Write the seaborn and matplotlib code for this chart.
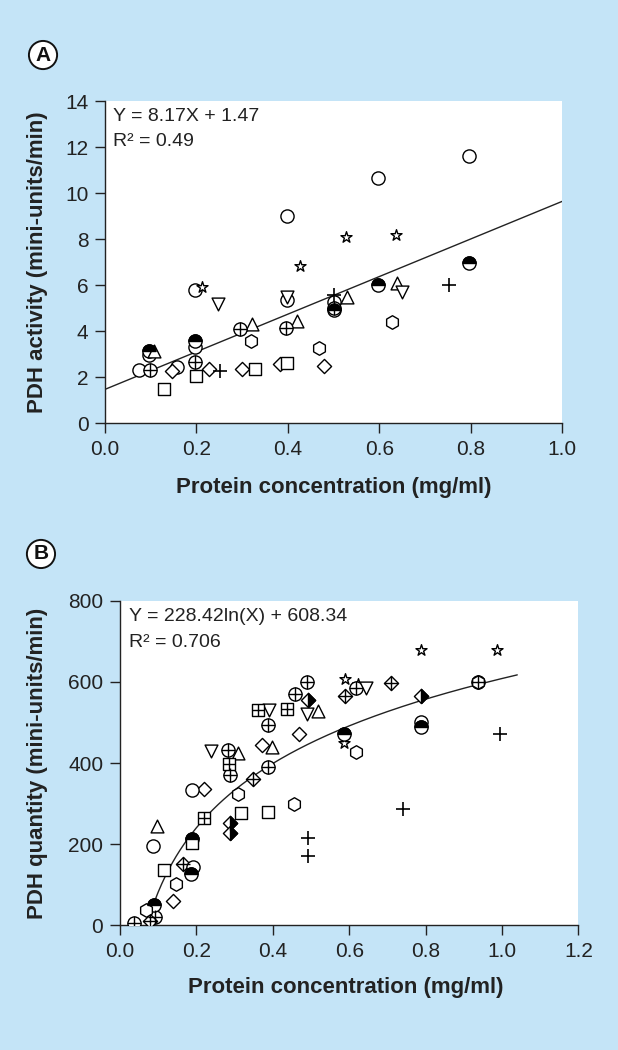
import numpy as np
import matplotlib
matplotlib.use("Agg")
import matplotlib.pyplot as plt
from matplotlib.markers import MarkerStyle
import seaborn as sns

# ---------------- data: panel A (PDH activity) ----------------
a_circle_x = [0.797, 0.598, 0.399, 0.197, 0.197, 0.097, 0.075, 0.158, 0.398, 0.500]
a_circle_y = [11.60, 10.65, 9.00, 5.80, 3.30, 2.98, 2.30, 2.43, 5.35, 5.25]
a_half_x = [0.797, 0.598, 0.197, 0.500, 0.097]
a_half_y = [6.95, 6.00, 3.58, 4.90, 3.15]
a_star_x = [0.527, 0.637, 0.427, 0.212]
a_star_y = [8.10, 8.20, 6.85, 5.90]
a_tri_up_x = [0.638, 0.529, 0.321, 0.421, 0.107]
a_tri_up_y = [6.10, 5.50, 4.30, 4.45, 3.12]
a_tri_dn_x = [0.248, 0.649, 0.398]
a_tri_dn_y = [5.20, 5.70, 5.50]
a_plus_x = [0.752, 0.502, 0.252]
a_plus_y = [6.00, 5.55, 2.28]
a_oplus_x = [0.295, 0.396, 0.197, 0.098, 0.500]
a_oplus_y = [4.10, 4.15, 2.65, 2.30, 5.00]
a_hex_x = [0.319, 0.627, 0.468]
a_hex_y = [3.55, 4.40, 3.25]
a_diam_x = [0.146, 0.228, 0.299, 0.383, 0.478]
a_diam_y = [2.25, 2.35, 2.35, 2.55, 2.50]
a_sq_x = [0.198, 0.129, 0.328, 0.398]
a_sq_y = [2.05, 1.50, 2.35, 2.60]
a_slope, a_intercept = 8.17, 1.47

# ---------------- data: panel B (PDH quantity) ----------------
b_star_x = [0.787, 0.988, 0.589, 0.624, 0.587, 0.188]
b_star_y = [679, 678, 608, 596, 450, 334]
b_oplus_x = [0.489, 0.458, 0.387, 0.282, 0.288, 0.388, 0.618, 0.938, 0.092, 0.037]
b_oplus_y = [599, 569, 495, 432, 370, 391, 584, 600, 22, 5]
b_halfdiam_x = [0.493, 0.788, 0.288, 0.288]
b_halfdiam_y = [555, 565, 253, 227]
b_tri_dn_x = [0.489, 0.391, 0.643, 0.237]
b_tri_dn_y = [521, 532, 585, 430]
b_tri_up_x = [0.519, 0.397, 0.310, 0.096]
b_tri_up_y = [529, 440, 425, 245]
b_sqplus_x = [0.362, 0.438, 0.285, 0.220]
b_sqplus_y = [530, 533, 398, 264]
b_diam_x = [0.469, 0.373, 0.220, 0.140]
b_diam_y = [471, 444, 336, 61]
b_diamplus_x = [0.589, 0.709, 0.347, 0.164, 0.079]
b_diamplus_y = [566, 598, 362, 151, 12]
b_circle_x = [0.787, 0.087, 0.190, 0.188]
b_circle_y = [502, 196, 145, 334]
b_half_x = [0.787, 0.587, 0.188, 0.185, 0.089]
b_half_y = [488, 471, 213, 128, 50]
b_hex_x = [0.618, 0.308, 0.456, 0.147, 0.068, 0.938]
b_hex_y = [428, 324, 298, 101, 38, 600]
b_sq_x = [0.317, 0.388, 0.189, 0.115]
b_sq_y = [278, 280, 202, 137]
b_plus_x = [0.995, 0.740, 0.491, 0.491]
b_plus_y = [471, 288, 216, 171]
b_log_coef, b_log_int = 228.42, 608.34
b_fit_range = (0.09, 1.04)

# ---------------- style ----------------
BG = "#c4e4f7"
sns.set_theme(style="ticks")
plt.rcParams["font.family"] = ["Liberation Sans", "DejaVu Sans"]

fig = plt.figure(figsize=(6.18, 10.5), dpi=100, facecolor=BG)
axA = fig.add_axes([0.170, 0.597, 0.7395, 0.3067])
axB = fig.add_axes([0.1942, 0.1186, 0.7417, 0.3093])

LW = 1.0


def open_pts(ax, x, y, marker, s):
    sns.scatterplot(x=x, y=y, marker=marker, s=s, facecolor="white",
                    edgecolor="black", linewidth=LW, ax=ax, zorder=3)


def plus_pts(ax, x, y, s, lw=1.2):
    sns.scatterplot(x=x, y=y, marker="+", s=s, color="black",
                    linewidth=lw, ax=ax, zorder=4)


def half_pts(ax, x, y, base, fill, s):
    open_pts(ax, x, y, base, s)
    sns.scatterplot(x=x, y=y, marker=MarkerStyle(base, fillstyle=fill), s=s,
                    facecolor="black", edgecolor="black", linewidth=LW,
                    ax=ax, zorder=4)


S_C = 90    # circle
S_T = 85    # triangles
S_S = 80    # square
S_D = 52    # diamond
S_H = 95    # hexagon
S_ST = 70   # star

# ---------- panel A ----------
open_pts(axA, a_circle_x, a_circle_y, "o", S_C)
half_pts(axA, a_half_x, a_half_y, "o", "top", S_C)
open_pts(axA, a_star_x, a_star_y, "*", S_ST)
open_pts(axA, a_tri_up_x, a_tri_up_y, "^", S_T)
open_pts(axA, a_tri_dn_x, a_tri_dn_y, "v", S_T)
plus_pts(axA, a_plus_x, a_plus_y, 95)
open_pts(axA, a_oplus_x, a_oplus_y, "o", S_C)
plus_pts(axA, a_oplus_x, a_oplus_y, S_C, lw=LW)
open_pts(axA, a_hex_x, a_hex_y, "h", S_H)
open_pts(axA, a_diam_x, a_diam_y, "D", S_D)
open_pts(axA, a_sq_x, a_sq_y, "s", S_S)

xa = np.array([0.0, 1.0])
sns.lineplot(x=xa, y=a_slope * xa + a_intercept, color="#222222",
             linewidth=1.0, ax=axA, zorder=2)

# ---------- panel B ----------
open_pts(axB, b_star_x, b_star_y, "*", S_ST)
open_pts(axB, b_oplus_x, b_oplus_y, "o", S_C)
plus_pts(axB, b_oplus_x, b_oplus_y, S_C, lw=LW)
half_pts(axB, b_halfdiam_x, b_halfdiam_y, "D", "right", S_D)
open_pts(axB, b_tri_dn_x, b_tri_dn_y, "v", S_T)
open_pts(axB, b_tri_up_x, b_tri_up_y, "^", S_T)
open_pts(axB, b_sqplus_x, b_sqplus_y, "s", S_S)
plus_pts(axB, b_sqplus_x, b_sqplus_y, S_S, lw=LW)
open_pts(axB, b_diam_x, b_diam_y, "D", S_D)
open_pts(axB, b_diamplus_x, b_diamplus_y, "D", S_D)
plus_pts(axB, b_diamplus_x, b_diamplus_y, 90, lw=LW)
open_pts(axB, b_circle_x, b_circle_y, "o", S_C)
half_pts(axB, b_half_x, b_half_y, "o", "top", S_C)
open_pts(axB, b_hex_x, b_hex_y, "h", S_H)
open_pts(axB, b_sq_x, b_sq_y, "s", S_S)
plus_pts(axB, b_plus_x, b_plus_y, 95)

xb = np.linspace(b_fit_range[0], b_fit_range[1], 200)
sns.lineplot(x=xb, y=b_log_coef * np.log(xb) + b_log_int, color="#222222",
             linewidth=1.0, ax=axB, zorder=2)

# ---------- axes formatting ----------
for ax in (axA, axB):
    ax.set_facecolor("white")
    for sp in ("top", "right"):
        ax.spines[sp].set_visible(False)
    for sp in ("left", "bottom"):
        ax.spines[sp].set_color("#222222")
        ax.spines[sp].set_linewidth(1.0)
    ax.tick_params(direction="out", length=7, width=1.0, color="#222222",
                   labelsize=15, labelcolor="#222222", pad=5)

axA.set_xlim(0, 1.0)
axA.set_ylim(0, 14)
axA.set_xticks(np.arange(0, 1.01, 0.2))
axA.set_xticklabels([f"{v:.1f}" for v in np.arange(0, 1.01, 0.2)])
axA.set_yticks(np.arange(0, 15, 2))

axB.set_xlim(0, 1.2)
axB.set_ylim(0, 800)
axB.set_xticks(np.arange(0, 1.21, 0.2))
axB.set_xticklabels([f"{v:.1f}" for v in np.arange(0, 1.21, 0.2)])
axB.set_yticks(np.arange(0, 801, 200))

lab_kw = dict(fontsize=16, fontweight="bold", color="#222222")
axA.set_xlabel("Protein concentration (mg/ml)", va="center", **lab_kw)
axA.set_ylabel("PDH activity (mini-units/min)", va="center", **lab_kw)
axA.xaxis.set_label_coords(0.5, -0.199)
axA.yaxis.set_label_coords(-0.147, 0.5)

axB.set_xlabel("Protein concentration (mg/ml)", va="center", **lab_kw)
axB.set_ylabel("PDH quantity (mini-units/min)", va="center", **lab_kw)
axB.xaxis.set_label_coords(0.492, -0.192)
axB.yaxis.set_label_coords(-0.179, 0.5)

# equations
axA.text(0.0175, 13.35, "Y = 8.17X + 1.47", fontsize=14, va="center",
         ha="left", color="#222222")
axA.text(0.0175, 12.23, "R² = 0.49", fontsize=14, va="center",
         ha="left", color="#222222")
axB.text(0.024, 762, "Y = 228.42ln(X) + 608.34", fontsize=14, va="center",
         ha="left", color="#222222")
axB.text(0.024, 696, "R² = 0.706", fontsize=14, va="center",
         ha="left", color="#222222")

# circled panel letters
for lbl, (fx, fy) in (("A", (0.0696, 0.9476)), ("B", (0.0663, 0.4724))):
    fig.text(fx, fy, lbl, ha="center", va="center", fontsize=15,
             fontweight="bold", color="#111111",
             bbox=dict(boxstyle="circle,pad=0.22", fc="white", ec="#111111",
                       lw=1.4))

fig.savefig("out.png", dpi=100, facecolor=BG)
